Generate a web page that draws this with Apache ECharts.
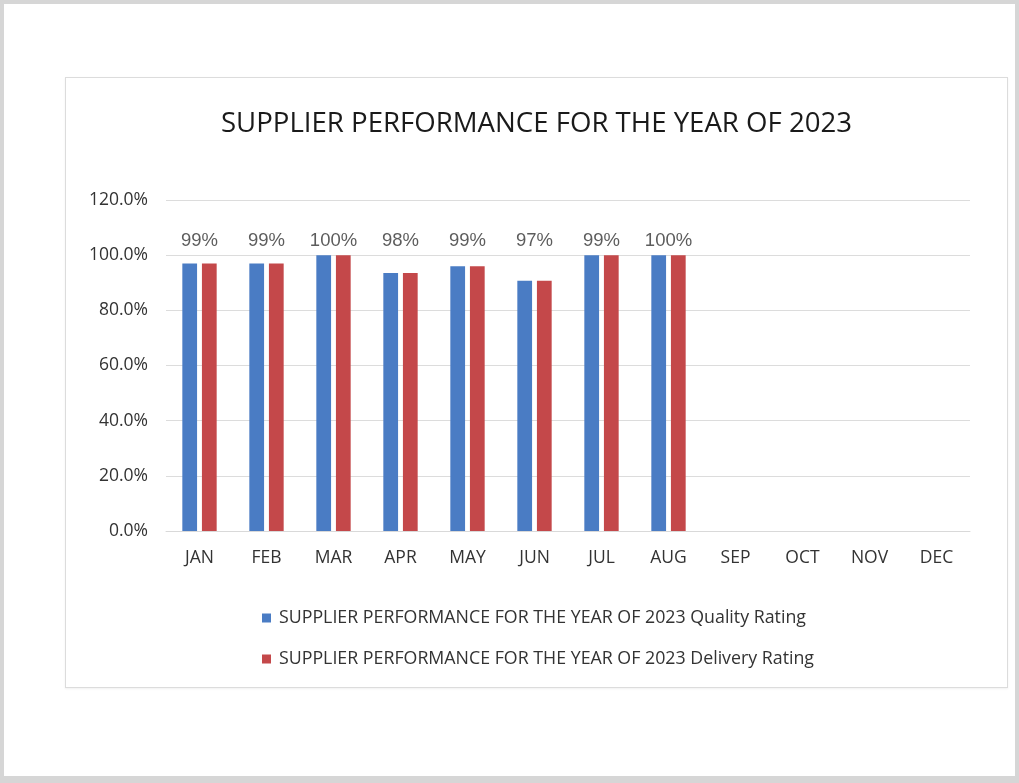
<!DOCTYPE html>
<html>
<head>
<meta charset="utf-8">
<script src="https://cdn.jsdelivr.net/npm/echarts@6/dist/echarts.min.js"></script>
<style>
html,body{margin:0;padding:0;background:#fff;}
#page{position:absolute;left:0;top:0;width:1011px;height:772px;border:4px solid #d6d6d6;border-bottom-width:7px;background:#fff;}
#card{position:absolute;left:65px;top:77px;width:941px;height:609px;border:1px solid #dcdcdc;background:#fff;box-shadow:0 1px 2px rgba(0,0,0,0.06);}
#chart{width:941px;height:609px;}
</style>
</head>
<body>
<div id="page"></div>
<div id="card"><div id="chart"></div></div>
<script>
const titleText = 'SUPPLIER PERFORMANCE FOR THE YEAR OF 2023';
const months = ['JAN','FEB','MAR','APR','MAY','JUN','JUL','AUG','SEP','OCT','NOV','DEC'];
const qualityRating = [97.0, 97.0, 100, 93.5, 96.0, 90.7, 100, 100, null, null, null, null];
const deliveryRating = [97.0, 97.0, 100, 93.5, 96.0, 90.7, 100, 100, null, null, null, null];
const dataLabels = ['99%','99%','100%','98%','99%','97%','99%','100%','','','',''];
const yTicks = [0, 20, 40, 60, 80, 100, 120];
const seriesNames = [
  'SUPPLIER PERFORMANCE FOR THE YEAR OF 2023 Quality Rating',
  'SUPPLIER PERFORMANCE FOR THE YEAR OF 2023 Delivery Rating'
];

const LABEL_ANCHOR = 105;
const chart = echarts.init(document.getElementById('chart'));
chart.setOption({
  animation: false,
  title: {
    text: titleText,
    left: 'center',
    top: 27,
    textStyle: {fontFamily: '"Open Sans", sans-serif', fontSize: 27.6, fontWeight: 'normal', color: '#1a1a1a'}
  },
  grid: {left: 100, right: 37, top: 122, bottom: 156},
  legend: {
    orient: 'vertical',
    left: 191,
    top: 526,
    itemWidth: 9,
    itemHeight: 9,
    itemGap: 23,
    icon: 'rect',
    data: seriesNames,
    textStyle: {fontFamily: '"Open Sans", sans-serif', fontSize: 17.8, color: '#333', padding: [0,0,0,3]}
  },
  xAxis: {
    type: 'category',
    data: months,
    axisLine: {lineStyle: {color: '#d9d9d9'}},
    axisTick: {show: false},
    axisLabel: {fontFamily: '"Open Sans", sans-serif', fontSize: 17.5, color: '#333', margin: 18}
  },
  yAxis: {
    type: 'value',
    min: yTicks[0],
    max: yTicks[yTicks.length - 1],
    interval: 20,
    axisLine: {show: false},
    axisTick: {show: false},
    splitLine: {lineStyle: {color: '#dcdcdc'}},
    axisLabel: {
      fontFamily: '"Open Sans", sans-serif', fontSize: 17.5, color: '#333', margin: 18,
      formatter: v => v.toFixed(1) + '%'
    }
  },
  series: [
    {
      name: seriesNames[0], type: 'bar', data: qualityRating,
      barWidth: '22%', barGap: '33%',
      itemStyle: {color: '#4a7cc4'}
    },
    {
      name: seriesNames[1], type: 'bar', data: deliveryRating,
      barWidth: '22%',
      itemStyle: {color: '#c4484a'}
    },
    {
      name: 'labels', type: 'scatter',
      data: dataLabels.map((t, i) => t ? [i, LABEL_ANCHOR] : null),
      symbolSize: 0,
      silent: true,
      label: {
        show: true, position: 'inside',
        fontFamily: '"Liberation Sans", Arial, sans-serif', fontSize: 18.5, color: '#333',
        formatter: p => dataLabels[p.dataIndex]
      }
    }
  ]
});
</script>
</body>
</html>
